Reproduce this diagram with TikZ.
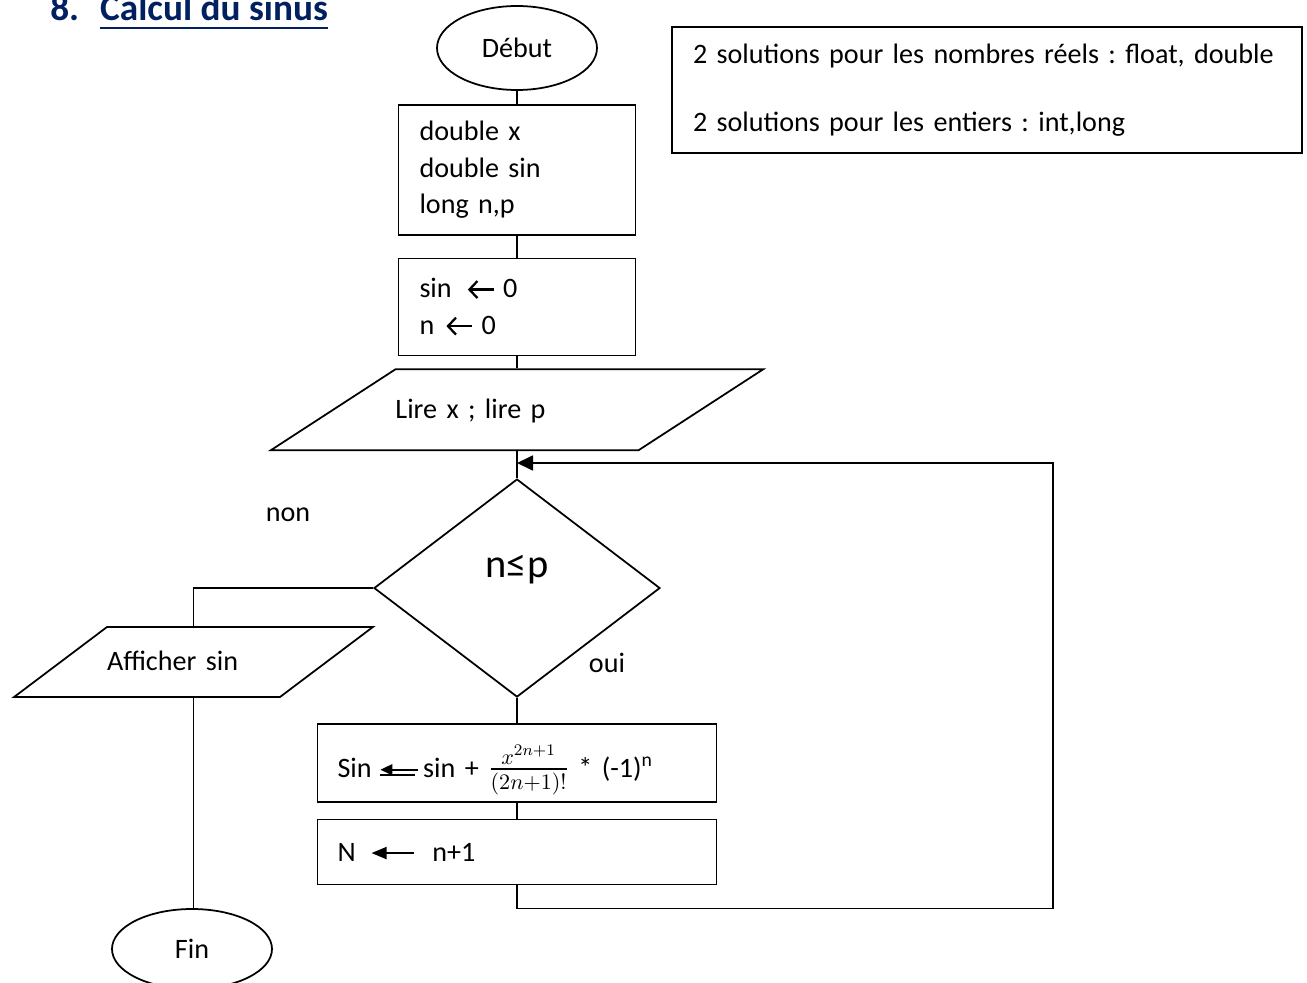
\documentclass[tikz,border=0pt]{standalone}
\usepackage{fontspec}
\setmainfont{Carlito}
\usepackage{amsmath}
\usepackage{graphicx}
\usetikzlibrary{shapes.geometric, arrows.meta, positioning}
\definecolor{titleblue}{RGB}{0,32,96}
\newcommand{\txt}{\frenchspacing\fontsize{16pt}{20.8pt}\selectfont}
\newsavebox{\titrebox}
\newcommand{\souligne}[1]{\sbox{\titrebox}{#1}\rlap{\usebox{\titrebox}}\rule[-0.17cm]{\wd\titrebox}{0.053cm}}
\newcommand{\affect}{\tikz[baseline=-0.6ex,x=1cm,y=1cm]\draw[line width=1.3pt,-{Straight Barb[length=0.16cm,width=0.34cm]}](0.52,0)--(0,0);}
\newcommand{\affectdbl}{\tikz[baseline=-0.6ex,x=1cm,y=1cm]{\draw[line width=0.9pt,-{Triangle[length=0.24cm,width=0.22cm]}](0.76,0)--(0,0);\draw[line width=0.9pt](0,-0.1)--(0.7,-0.1);}}
\newcommand{\affectfill}{\tikz[baseline=-0.6ex,x=1cm,y=1cm]\draw[line width=1pt,-{Triangle[length=0.3cm,width=0.24cm]}](0.84,0)--(0,0);}
\tikzstyle{startstop} = [ellipse, draw=black, line width=1pt, minimum width=3.2cm, minimum height=1.68cm, inner sep=0pt, font=\txt]
\tikzstyle{process} = [rectangle, draw=black, line width=1pt, minimum width=4.74cm, text width=3.9cm, inner xsep=0.42cm, align=left, font=\txt]
\tikzstyle{longprocess} = [process, minimum width=7.98cm, text width=7.18cm, inner xsep=0.4cm]
\tikzstyle{io} = [trapezium, trapezium left angle=33, trapezium right angle=147, draw=black, line width=1pt, inner xsep=0pt, text height=0.5cm, text depth=0.15cm, minimum height=0pt, minimum width=0pt, align=left, font=\txt]
\tikzstyle{decision} = [diamond, draw=black, line width=1pt, minimum width=5.72cm, minimum height=4.36cm, inner sep=0pt, font=\fontsize{23pt}{28pt}\selectfont]
\tikzstyle{note} = [rectangle, draw=black, line width=1pt, minimum width=12.6cm, minimum height=2.52cm, text width=11.76cm, inner xsep=0.42cm, align=left, font=\txt]
\tikzstyle{link} = [draw, line width=1pt]
\tikzstyle{arrow} = [link, -{Triangle[length=0.32cm,width=0.3cm]}]

\begin{document}
\begin{tikzpicture}
\useasboundingbox (0,0) rectangle (26.14,-19.66);

%--Titre--%
\node(titre)[anchor=base west, inner sep=0pt, text=titleblue, font=\fontsize{21.2pt}{25pt}\selectfont\bfseries] at (1.0,-0.42) {8.\hspace{0.42cm}\souligne{Calcul du sinus}};

%--Remarque--%
\node(note)[note] at (19.74,-1.8) {\mbox{2 solutions pour les nombres réels : float, double}\\[18.2pt]\mbox{2 solutions pour les entiers : int,long}};

%--Colonne principale--%
\node(deb)[startstop] at (10.34,-0.96) {Début};
\node(decl)[process, minimum height=2.6cm, below=0.26cm of deb] {double x\\double sin\\long n,p};
\node(init)[process, minimum height=1.94cm, below=0.44cm of decl] {sin\hspace{0.3cm}\affect\hspace{0.16cm}0\\n\hspace{0.22cm}\affect\hspace{0.16cm}0};
\node(lire)[io, text width=4.86cm, inner ysep=0.485cm, below=0.24cm of init] {Lire x ; lire p};
\node(test)[decision, below=0.54cm of lire] {\raisebox{0.22cm}[0pt][0pt]{n≤p}};
\node(calc)[longprocess, minimum height=1.56cm, below=0.5cm of test] {\rule{0pt}{0.95cm}Sin\hspace{0.16cm}\affectdbl\hspace{0.08cm}sin + \scalebox{1.15}{$\frac{x^{2n+1}}{(2n+1)!}$} * (-1)\textsuperscript{n}};
\node(incr)[longprocess, minimum height=1.3cm, below=0.32cm of calc] {N\hspace{0.3cm}\affectfill\hspace{0.36cm}n+1};

%--Sortie--%
\node(aff)[io, trapezium left angle=37, trapezium right angle=143, text width=3.46cm, inner ysep=0.375cm] at (3.87,-13.24) {Afficher sin};
\node(fin)[startstop, minimum height=1.6cm] at (3.84,-18.98) {Fin};

%--Etiquettes--%
\node(non)[font=\txt] at (5.76,-10.3) {non};
\node(oui)[font=\txt] at (12.14,-13.26) {oui};
\coordinate(retour) at (21.06,-9.26);

%--Liens--%
\draw[link] (deb) -- (decl);
\draw[link] (decl) -- (init);
\draw[link] (init) -- (init.south |- lire.north);
\draw[link] (test.north |- lire.south) -- (test);
\draw[link] (test.west) -| (aff.north);
\draw[link] (aff.south) -- (aff.south |- fin.north);
\draw[link] (test) -- (calc);
\draw[link] (calc) -- (incr);
\draw[arrow] (incr.south) -- ++(0,-0.46) -| (retour) -- (retour -| test.north);
\end{tikzpicture}
\end{document}
